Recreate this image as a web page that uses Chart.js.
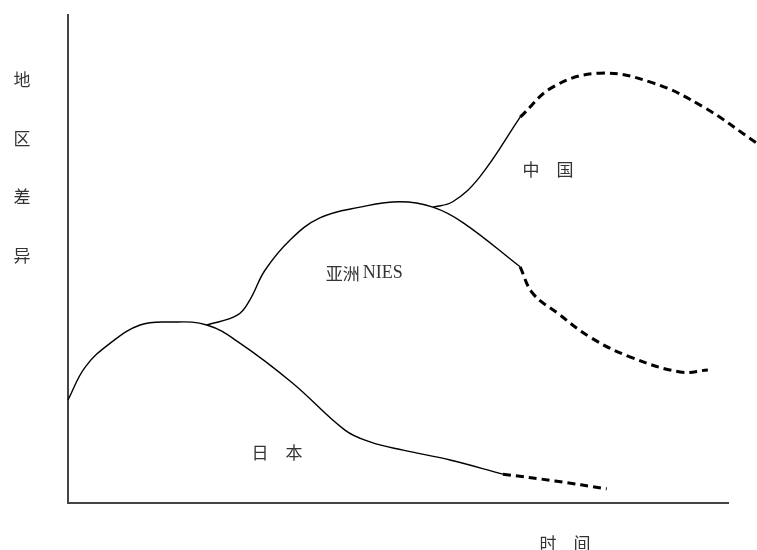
<!DOCTYPE html>
<html>
<head>
<meta charset="utf-8">
<script src="https://cdn.jsdelivr.net/npm/chart.js@4.4.0/dist/chart.umd.min.js"></script>
<style>
  html, body { margin: 0; padding: 0; background: #fff; }
  #wrap { width: 757px; height: 550px; }
</style>
</head>
<body>
<div id="wrap"><canvas id="regionChart"></canvas></div>
<script>
// --- Curve data (time, regional difference) ---
const japanSolidT = [0, 2.6, 6.4, 10.9, 15.4, 21.0, 26.0, 34.0, 41.9, 45.7, 50.7, 57.8, 65.8];
const japanSolidV = [21.1, 27.8, 32.7, 36.4, 37.0, 36.4, 32.7, 24.5, 14.9, 12.5, 10.8, 8.8, 5.9];
const japanDashT = [65.8, 73.7, 81.5];
const japanDashV = [5.9, 4.5, 2.9];

const niesSolidT = [21.0, 25.6, 27.5, 29.8, 33.6, 38.1, 44.2, 50.2, 55.2, 59.8, 68.4];
const niesSolidV = [36.4, 38.4, 41.5, 47.6, 53.8, 58.3, 60.5, 61.6, 60.5, 57.3, 48.3];
const niesDashT = [68.4, 70.3, 74.0, 79.0, 85.0, 92.6, 96.8];
const niesDashV = [48.3, 42.9, 38.9, 33.9, 29.9, 26.8, 27.2];

const chinaSolidT = [55.2, 58.2, 62.3, 68.4];
const chinaSolidV = [60.5, 61.6, 66.7, 78.9];
const chinaDashT = [68.4, 73.4, 80.5, 88.5, 96.1, 104.2];
const chinaDashV = [78.9, 85.1, 87.9, 85.9, 81.0, 73.6];

// --- Text labels placed in data units ---
const curveLabels = [
    { text: '日　本', t: 31.6, v: 10.4 },
    { text: '亚洲', t: 39.0, v: 47.0, latin: 'NIES' },
    { text: '中　国', t: 72.6, v: 68.1 },
    { text: '时　间', t: 75.2, v: -8.2 }
];
const yTitleChars = ['地', '区', '差', '异'];
const yTitleV = [86.5, 74.6, 62.6, 50.7];

const cjkFont = '17px "Noto Sans CJK SC", sans-serif';
const latinFont = '18px "Liberation Serif", serif';

function toPoints(ts, vs) {
    return ts.map((t, i) => ({ x: t, y: vs[i] }));
}

function curve(ts, vs, dashed) {
    return {
        data: toPoints(ts, vs),
        borderColor: '#000',
        borderWidth: dashed ? 3 : 1.4,
        borderDash: dashed ? [8, 5] : [],
        pointRadius: 0,
        fill: false,
        tension: 0.4,
        clip: false
    };
}

// --- Axis lines and labels ---
const sketchPlugin = {
    id: 'sketch',
    beforeDatasetsDraw(chart) {
        const { ctx, chartArea } = chart;
        ctx.save();
        ctx.strokeStyle = '#444';
        ctx.lineWidth = 2;
        ctx.beginPath();
        ctx.moveTo(chartArea.left, chartArea.top);
        ctx.lineTo(chartArea.left, chartArea.bottom);
        ctx.lineTo(chartArea.right, chartArea.bottom);
        ctx.stroke();
        ctx.restore();
    },
    afterDatasetsDraw(chart) {
        const { ctx, scales } = chart;
        ctx.save();
        ctx.fillStyle = '#333';
        ctx.textBaseline = 'middle';
        curveLabels.forEach(l => {
            const px = scales.x.getPixelForValue(l.t);
            const py = scales.y.getPixelForValue(l.v);
            ctx.font = cjkFont;
            ctx.textAlign = l.latin ? 'left' : 'center';
            ctx.fillText(l.text, px, py);
            if (l.latin) {
                const w = ctx.measureText(l.text).width;
                ctx.font = latinFont;
                ctx.fillText(l.latin, px + w + 3, py);
            }
        });
        ctx.font = cjkFont;
        ctx.textAlign = 'center';
        yTitleChars.forEach((c, i) => {
            ctx.fillText(c, 22, scales.y.getPixelForValue(yTitleV[i]));
        });
        ctx.restore();
    }
};

new Chart(document.getElementById('regionChart'), {
    type: 'line',
    data: {
        datasets: [
            curve(japanSolidT, japanSolidV, false),
            curve(japanDashT, japanDashV, true),
            curve(niesSolidT, niesSolidV, false),
            curve(niesDashT, niesDashV, true),
            curve(chinaSolidT, chinaSolidV, false),
            curve(chinaDashT, chinaDashV, true)
        ]
    },
    options: {
        responsive: true,
        maintainAspectRatio: false,
        animation: false,
        layout: { padding: { left: 68, top: 14, right: 28, bottom: 47 } },
        scales: {
            x: { type: 'linear', min: 0, max: 100, display: false },
            y: { type: 'linear', min: 0, max: 100, display: false }
        },
        plugins: {
            legend: { display: false },
            tooltip: { enabled: false }
        }
    },
    plugins: [sketchPlugin]
});
</script>
</body>
</html>
